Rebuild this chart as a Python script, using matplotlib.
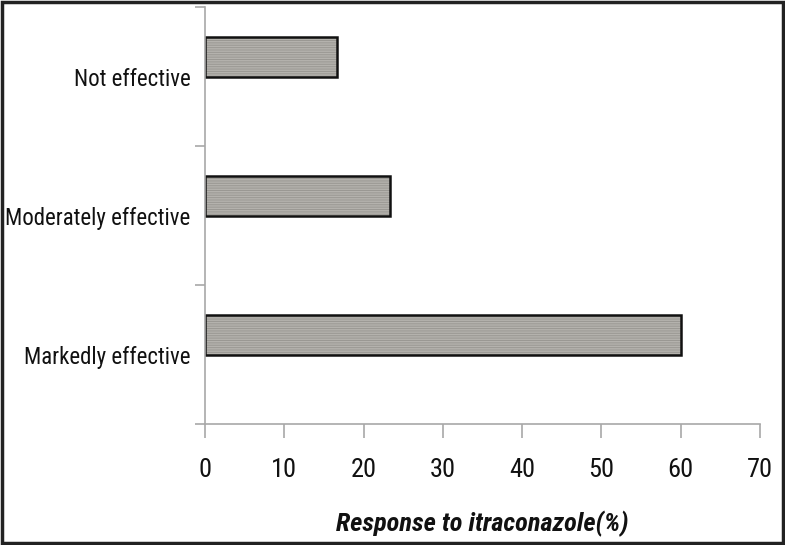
import numpy as np
import matplotlib
matplotlib.use("Agg")
import matplotlib.pyplot as plt
from matplotlib.patches import Rectangle

# data
categories = ['Markedly effective', 'Moderately effective', 'Not effective']
response_pct = [60.0, 23.3, 16.7]
x_ticks = [0, 10, 20, 30, 40, 50, 60, 70]

plt.rcParams['font.family'] = ['Roboto Condensed', 'Archivo Narrow', 'DejaVu Sans']

fig = plt.figure(figsize=(7.85, 5.45), dpi=100)
ax = fig.add_axes([0.2611, 0.222, 0.7071, 0.765])

pos = np.arange(len(categories))
bar_pos = pos + 0.14  # bars sit a little above the middle of each slot

# grey fill with faint horizontal lines, then a black outline
ax.barh(bar_pos, response_pct, height=0.287, color='#9a9893',
        edgecolor='#b4b2ad', linewidth=0, hatch='-------')
ax.barh(bar_pos, response_pct, height=0.287, fill=False,
        edgecolor='#111111', linewidth=1.8)

ax.set_xlim(0, 70)
ax.set_ylim(-0.5, 2.5)
ax.set_xticks(x_ticks)
ax.set_xticklabels([str(t) for t in x_ticks])
ax.set_yticks(pos)
ax.set_yticklabels(categories)
ax.set_yticks(np.arange(-0.5, 2.6, 1.0), minor=True)

for s in ['top', 'right']:
    ax.spines[s].set_visible(False)
for s in ['left', 'bottom']:
    ax.spines[s].set_color('#a8a8a8')
    ax.spines[s].set_linewidth(1.2)

ax.tick_params(axis='y', which='major', length=0, pad=10.5, labelsize=16.5, colors='#111111')
ax.tick_params(axis='y', which='minor', length=7, width=1.2, color='#a8a8a8')
ax.tick_params(axis='x', which='major', length=10, width=1.2, color='#a8a8a8',
               pad=14.5, labelsize=19, labelcolor='#111111')

ax.set_xlabel('Response to itraconazole(%)', fontsize=19, fontweight='bold',
              fontstyle='italic', labelpad=21, color='#111111')

# dark frame around the picture
fig.patches.append(Rectangle((0.002, 0.003), 0.996, 0.994, transform=fig.transFigure,
                             fill=False, edgecolor='#222222', linewidth=2.5))

fig.savefig('out.png', dpi=100)
